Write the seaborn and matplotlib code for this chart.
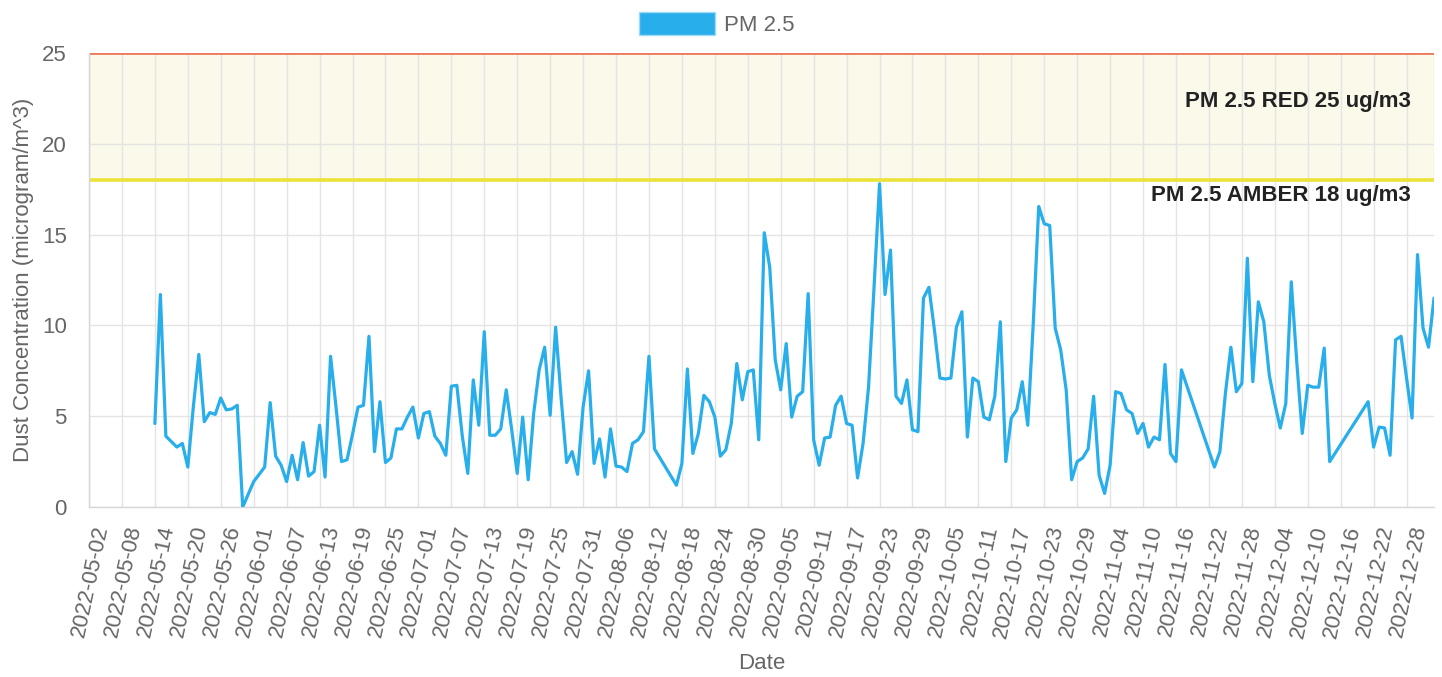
import matplotlib
matplotlib.use("Agg")
import matplotlib.pyplot as plt
import matplotlib.dates as mdates
import matplotlib.transforms as mtransforms
from matplotlib.patches import Patch
import pandas as pd
import seaborn as sns

# Daily PM 2.5 readings, 2022-05-14 .. 2023-01-02 (None = no reading that day)
start_date = "2022-05-14"
end_date = "2023-01-02"
pm25 = [
    4.6, 11.7, 3.9, 3.6, 3.3, 3.5, 2.2, 5.5, 8.4, 4.7,
    5.2, 5.1, 6.0, 5.35, 5.4, 5.6, 0.0, None, 1.4, None,
    2.2, 5.75, 2.8, 2.3, 1.4, 2.85, 1.5, 3.55, 1.7, 1.95,
    4.5, 1.65, 8.3, 5.5, 2.5, 2.6, 4.0, 5.5, 5.6, 9.4,
    3.05, 5.8, 2.45, 2.7, 4.3, 4.3, 4.95, 5.5, 3.8, 5.15,
    5.25, 3.9, 3.5, 2.85, 6.65, 6.7, 3.9, 1.85, 7.0, 4.5,
    9.65, 3.95, 3.95, 4.3, 6.45, 4.25, 1.85, 4.95, 1.5, 5.15,
    7.55, 8.8, 5.05, 9.9, 6.0, 2.45, 3.05, 1.8, 5.5, 7.5,
    2.4, 3.75, 1.65, 4.3, 2.25, 2.2, 1.95, 3.5, 3.7, 4.15,
    8.3, 3.2, 2.7, 2.2, 1.7, 1.2, 2.4, 7.6, 2.95, 4.05,
    6.15, 5.8, 4.95, 2.8, 3.15, 4.6, 7.9, 5.9, 7.45, 7.55,
    3.7, 15.1, 13.2, 8.1, 6.45, 9.0, 4.95, 6.1, 6.35, 11.75,
    3.7, 2.3, 3.8, 3.85, 5.6, 6.1, 4.6, 4.5, 1.6, 3.5,
    6.6, 12.1, 17.8, 11.7, 14.15, 6.1, 5.7, 7.0, 4.25, 4.15,
    11.5, 12.1, 9.75, 7.1, 7.05, 7.1, 9.9, 10.75, 3.85, 7.1,
    6.9, 4.95, 4.8, 6.1, 10.2, 2.5, 4.9, 5.35, 6.9, 4.5,
    10.1, 16.55, 15.6, 15.5, 9.85, 8.65, 6.45, 1.5, 2.5, 2.7,
    3.2, 6.1, 1.75, 0.75, 2.3, 6.35, 6.25, 5.35, 5.15, 4.05,
    4.6, 3.3, 3.85, 3.7, 7.85, 2.95, 2.5, 7.55, None, None,
    None, None, None, 2.2, 3.05, 6.25, 8.8, 6.35, 6.8, 13.7,
    6.9, 11.3, 10.2, 7.25, 5.7, 4.35, 5.7, 12.4, 8.0, 4.05,
    6.7, 6.6, 6.6, 8.75, 2.5, None, None, None, None, None,
    None, 5.8, 3.3, 4.4, 4.35, 2.85, 9.2, 9.4, 7.1, 4.9,
    13.9, 9.85, 8.8, 11.5,
]
red_limit = 25
amber_limit = 18
red_label = "PM 2.5 RED 25 ug/m3"
amber_label = "PM 2.5 AMBER 18 ug/m3"
axis_start = "2022-05-02"
tick_dates = pd.date_range("2022-05-02", "2022-12-28", freq="6D")
y_ticks = [0, 5, 10, 15, 20, 25]

df = pd.DataFrame({"Date": pd.date_range(start_date, end_date), "PM 2.5": pm25}).dropna()

sns.set_style("white")
plt.rcParams["font.family"] = ["Liberation Sans", "DejaVu Sans"]

line_color = "#27aeeb"
grid_color = "#e4e4e4"
text_gray = "#666666"

fig, ax = plt.subplots(figsize=(14.42, 6.77), dpi=100)
fig.subplots_adjust(left=89 / 1442, right=1434 / 1442, bottom=1 - 507 / 677, top=1 - 53 / 677)

# amber -> red band
ax.axhspan(amber_limit, red_limit, facecolor="#fbf9e9", edgecolor="#f2ea8c", linewidth=1, zorder=0.2)
ax.axhline(amber_limit, color="#ece33a", linewidth=2.6, zorder=1.5)
ax.axhline(red_limit, color="#ec7a5a", linewidth=2.0, zorder=1.5)

sns.lineplot(data=df, x="Date", y="PM 2.5", ax=ax, color=line_color, linewidth=2.3, zorder=3)

ax.set_xlim(pd.Timestamp(axis_start), pd.Timestamp(end_date))
ax.set_ylim(0, 25)
ax.set_yticks(y_ticks)
ax.set_xticks(tick_dates)
ax.xaxis.set_major_formatter(mdates.DateFormatter("%Y-%m-%d"))
ax.set_axisbelow(True)
ax.grid(True, color=grid_color, linewidth=1)

ax.tick_params(axis="y", length=8, width=1, color=grid_color, pad=8, labelsize=16, labelcolor=text_gray)
ax.tick_params(axis="x", length=7, width=1, color=grid_color, pad=5, labelsize=16, labelcolor=text_gray)
shift = mtransforms.ScaledTranslation(3 / 100, 0, fig.dpi_scale_trans)
for lbl in ax.get_xticklabels():
    lbl.set_rotation(78)
    lbl.set_ha("right")
    lbl.set_va("top")
    lbl.set_rotation_mode("anchor")
    lbl.set_transform(lbl.get_transform() + shift)

for side in ["top", "right"]:
    ax.spines[side].set_visible(False)
for side in ["left", "bottom"]:
    ax.spines[side].set_color("#d6d6d6")
    ax.spines[side].set_linewidth(1)

ax.set_xlabel("Date", fontsize=16, color=text_gray)
ax.set_ylabel("Dust Concentration (microgram/m^3)", fontsize=16, color=text_gray)
ax.xaxis.set_label_coords(0.5, -0.322)
ax.yaxis.set_label_coords(-0.041, 0.5)

tx = ax.get_yaxis_transform()
ax.text(0.983, 22.35, red_label, transform=tx, ha="right", va="center",
        fontsize=16, fontweight="bold", color="#222222", zorder=4)
ax.text(0.983, 17.13, amber_label, transform=tx, ha="right", va="center",
        fontsize=16, fontweight="bold", color="#222222", zorder=4)

handle = Patch(facecolor=line_color, edgecolor="#9fdaf6", linewidth=1, label="PM 2.5")
ax.legend(handles=[handle], loc="center", bbox_to_anchor=(0.497, 1 - 24 / 677),
          bbox_transform=fig.transFigure, frameon=False, fontsize=16,
          labelcolor=text_gray, handlelength=3.45, handleheight=1.2, handletextpad=0.4)

fig.savefig("out.png", dpi=100)
plt.close(fig)
